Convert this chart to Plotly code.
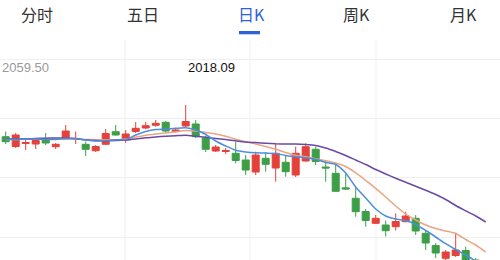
import plotly.graph_objects as go

# ---- data (prices) ----
idx = list(range(49))
opens = [1981.8, 1972.0, 1975.0, 1974.5, 1979.5, 1971.8, 1979.5, 1979.0, 1974.2, 1967.8,
         1974.2, 1986.8, 1978.5, 1987.0, 1990.5, 1993.2, 1996.2, 1987.0, 1992.5, 1994.5,
         1980.5, 1967.5, 1967.0, 1965.2, 1958.5, 1946.5, 1960.2, 1950.5, 1956.2, 1943.5,
         1957.5, 1969.2, 1951.5, 1945.2, 1930.7, 1920.2, 1907.0, 1895.2, 1893.5, 1891.8,
         1896.8, 1900.2, 1885.2, 1873.0, 1860.2, 1863.0, 1868.0, 1858.5, 1848.5]
closes = [1976.8, 1983.5, 1976.0, 1978.0, 1975.5, 1974.2, 1987.5, 1980.0, 1969.2, 1972.0,
          1985.0, 1983.5, 1984.5, 1990.2, 1992.8, 1995.2, 1987.5, 1988.5, 1997.0, 1981.8,
          1969.2, 1971.5, 1968.0, 1958.0, 1948.5, 1963.5, 1954.2, 1965.2, 1946.8, 1965.2,
          1971.8, 1957.0, 1950.5, 1927.2, 1929.5, 1906.8, 1898.0, 1900.2, 1887.8, 1897.0,
          1902.5, 1887.5, 1875.5, 1865.5, 1866.5, 1868.5, 1856.5, 1848.5, 1853.5]
highs = [1987.0, 1985.5, 1979.5, 1980.5, 1985.5, 1975.5, 1993.5, 1987.0, 1976.8, 1973.5,
         1989.5, 1993.5, 1988.5, 1996.5, 1996.5, 1998.5, 1997.5, 1990.5, 2013.5, 1998.5,
         1982.5, 1973.5, 1970.5, 1976.8, 1963.5, 1966.8, 1966.5, 1974.5, 1963.5, 1971.8,
         1975.2, 1971.8, 1958.5, 1955.2, 1944.5, 1930.5, 1909.5, 1903.5, 1898.0, 1905.2,
         1906.8, 1903.5, 1887.5, 1875.5, 1868.5, 1885.8, 1871.8, 1860.5, 1855.0]
lows = [1974.5, 1970.5, 1968.5, 1969.5, 1973.5, 1969.5, 1978.5, 1974.5, 1962.5, 1966.5,
        1973.5, 1983.0, 1975.5, 1985.5, 1989.5, 1991.8, 1985.8, 1985.5, 1991.5, 1980.5,
        1966.5, 1966.5, 1964.5, 1955.2, 1943.5, 1943.5, 1946.8, 1936.8, 1941.8, 1941.5,
        1956.8, 1953.5, 1936.8, 1926.8, 1928.5, 1901.8, 1891.8, 1894.5, 1882.0, 1888.0,
        1896.5, 1883.5, 1868.5, 1860.5, 1857.5, 1861.5, 1853.5, 1845.5, 1846.0]

ma_blue = [1979.0, 1979.0, 1979.5, 1979.5, 1979.0, 1979.0, 1980.0, 1979.7, 1978.5, 1977.5,
           1978.0, 1978.7, 1979.0, 1983.5, 1987.0, 1989.0, 1989.5, 1990.2, 1990.7, 1988.5,
           1984.0, 1977.5, 1972.5, 1968.2, 1966.5, 1965.7, 1965.4, 1965.0, 1963.0, 1961.8,
           1960.7, 1959.2, 1956.0, 1954.0, 1945.5, 1931.5, 1920.5, 1909.5, 1902.5, 1899.5,
           1898.0, 1894.0, 1888.0, 1881.5, 1874.8, 1869.0, 1863.5, 1857.5, 1851.5]
ma_orange = [1979.0, 1979.0, 1979.2, 1979.5, 1979.5, 1979.5, 1979.5, 1979.3, 1979.0, 1978.8,
             1978.7, 1978.7, 1979.5, 1981.5, 1983.3, 1984.5, 1985.5, 1986.7, 1988.0, 1987.5,
             1986.0, 1984.5, 1982.2, 1979.3, 1976.8, 1974.5, 1972.0, 1969.3, 1966.0, 1963.2,
             1961.7, 1959.8, 1957.8, 1955.5, 1952.0, 1945.7, 1938.2, 1930.2, 1921.5, 1912.5,
             1904.5, 1898.5, 1893.5, 1890.0, 1887.5, 1885.0, 1879.0, 1873.5, 1866.5]
ma_purple = [1979.5, 1979.5, 1979.7, 1980.0, 1980.3, 1980.5, 1980.5, 1980.0, 1978.5, 1978.0,
             1977.8, 1978.0, 1978.5, 1979.5, 1980.7, 1981.5, 1982.3, 1982.8, 1983.3, 1982.3,
             1981.2, 1980.0, 1979.0, 1977.7, 1976.5, 1975.9, 1975.2, 1974.7, 1974.5, 1974.5,
             1974.0, 1973.0, 1970.5, 1967.0, 1963.0, 1958.5, 1954.0, 1949.0, 1944.5, 1940.2,
             1936.2, 1932.2, 1928.2, 1924.0, 1919.0, 1913.0, 1907.7, 1902.5, 1896.5]

tabs = ["分时", "五日", "日K", "周K", "月K"]
price_label = "2059.50"
date_label = "2018.09"

RED = "#e5413b"
GREEN = "#3c9f48"

fig = go.Figure()
fig.add_trace(go.Candlestick(
    x=idx, open=opens, high=highs, low=lows, close=closes,
    increasing=dict(line=dict(color=RED, width=1), fillcolor=RED),
    decreasing=dict(line=dict(color=GREEN, width=1), fillcolor=GREEN),
    whiskerwidth=0, hoverinfo="skip", showlegend=False,
))
for vals, col in [(ma_orange, "#eaa585"), (ma_purple, "#6a4aa5"), (ma_blue, "#4a8fdc")]:
    fig.add_trace(go.Scatter(x=idx, y=vals, mode="lines",
                             line=dict(color=col, width=1.5, shape="spline", smoothing=0.6),
                             hoverinfo="skip", showlegend=False))

# vertical grid lines
for xp in [0.25, 0.5, 0.752]:
    fig.add_shape(type="line", xref="paper", yref="paper", x0=xp, x1=xp, y0=0, y1=1 - 40 / 260,
                  line=dict(color="#efefef", width=1), layer="below")

# tabs
tab_x = [37, 143, 251, 356, 463]
for t, xp in zip(tabs, tab_x):
    fig.add_annotation(text=t, xref="paper", yref="paper", x=xp / 500, y=1,
                       showarrow=False, xanchor="center", yanchor="top",
                       font=dict(family="Noto Sans CJK SC", size=16,
                                 color="#2f62d6" if t == "日K" else "#333333"))
fig.add_shape(type="rect", xref="paper", yref="paper", x0=239 / 500, x1=260 / 500,
              y0=1 - 34.3 / 260, y1=1 - 31 / 260, fillcolor="#2f62d6", line=dict(width=0))

fig.add_annotation(text=price_label, xref="paper", yref="paper", x=0, y=1 - 68 / 260,
                   showarrow=False, xanchor="left", yanchor="middle",
                   font=dict(family="Liberation Sans", size=13, color="#9a9a9a"))
fig.add_annotation(text=date_label, xref="paper", yref="paper", x=211 / 500, y=1 - 68 / 260,
                   showarrow=False, xanchor="center", yanchor="middle",
                   font=dict(family="Liberation Sans", size=13, color="#111111"))

fig.update_layout(
    width=500, height=260, margin=dict(l=0, r=0, t=0, b=0),
    paper_bgcolor="white", plot_bgcolor="white", hovermode=False,
    boxgap=0.3, boxgroupgap=0,
    xaxis=dict(range=[-0.57, 49.43], showgrid=False, zeroline=False, showticklabels=False,
               rangeslider=dict(visible=False), fixedrange=True),
    yaxis=dict(range=[1858.5, 2118.5], tick0=2059.5, dtick=59.35, showgrid=True,
               gridcolor="#efefef", gridwidth=1, zeroline=False, showticklabels=False,
               fixedrange=True),
)
fig.write_html("out.html", config={"displayModeBar": False})
